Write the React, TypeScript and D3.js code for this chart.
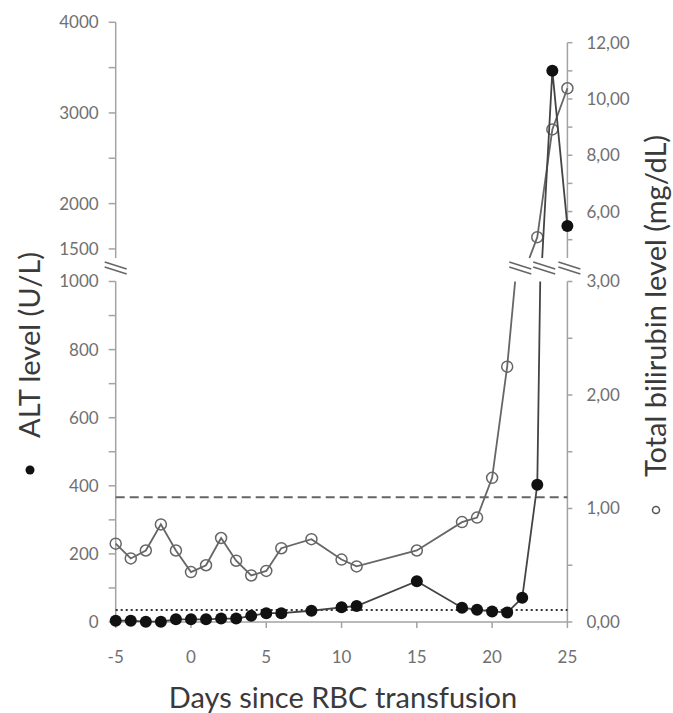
import React from 'react'
import * as d3 from 'd3'

const width = 673
const height = 713

// ALT (U/L), filled dots
const altDays = [-5, -4, -3, -2, -1, 0, 1, 2, 3, 4, 5, 6, 8, 10, 11, 15, 18, 19, 20, 21, 22, 23, 24, 25]
const altValues = [4, 4, 1, 1, 8, 8, 8, 10, 10, 18, 26, 26, 33, 43, 47, 120, 42, 36, 31, 28, 71, 403, 3466, 1752]

// total bilirubin (mg/dL), open circles
const biliDays = [-5, -4, -3, -2, -1, 0, 1, 2, 3, 4, 5, 6, 8, 10, 11, 15, 18, 19, 20, 21, 23, 24, 25]
const biliValues = [0.69, 0.56, 0.63, 0.86, 0.63, 0.44, 0.5, 0.74, 0.54, 0.41, 0.45, 0.65, 0.73, 0.55, 0.49, 0.63, 0.88, 0.92, 1.27, 2.25, 5.09, 8.92, 10.38]

const xTicks = [-5, 0, 5, 10, 15, 20, 25]
const altTicksLow = [0, 200, 400, 600, 800, 1000]
const altMinorLow = [100, 300, 500, 700, 900]
const altTicksHigh = [1500, 2000, 3000, 4000]
const altMinorHigh = [2500, 3500]
const biliTicksLow = [0, 1, 2, 3]
const biliMinorLow = [0.5, 1.5, 2.5]
const biliTicksHigh = [6, 8, 10, 12]
const biliMinorHigh = [5, 7, 9, 11]

const altLimit = 35 // dotted
const biliLimit = 1.1 // dashed

// scale break: lower panel ends at these values, upper panel starts at these
const altBreak = [1000, 1400]
const biliBreak = [3, 4.35]

const x = d3.scaleLinear().domain([-5, 25]).range([115.7, 567.4])
const altLow = d3.scaleLinear().domain([0, 1000]).range([622, 281.5])
const altHigh = d3.scaleLinear().domain([1400, 4000]).range([258, 22.3])
const biliLow = d3.scaleLinear().domain([0, 3]).range([622, 281.5])
const biliHigh = d3.scaleLinear().domain([4.35, 12]).range([258, 42.7])

const fmtComma = (v: number) => d3.format('.2f')(v).replace('.', ',')

type Pt = [number, number]

// split a series into pieces where it jumps across the axis break
function splitSeries(days: number[], vals: number[], brk: number[], yLow: any, yHigh: any) {
    const [lowMax, highMin] = brk
    const pos = (d: number, v: number): Pt => [x(d), v <= lowMax ? yLow(v) : yHigh(v)]
    const parts: Pt[][] = []
    const crossings: number[] = []
    let cur: Pt[] = []
    days.forEach((d, i) => {
        const v = vals[i]
        if (i > 0) {
            const d0 = days[i - 1]
            const v0 = vals[i - 1]
            const lo0 = v0 <= lowMax
            const lo1 = v <= lowMax
            if (lo0 !== lo1) {
                const at = (t: number) => d0 + ((d - d0) * (t - v0)) / (v - v0)
                const dA = at(lo0 ? lowMax : highMin)
                const dB = at(lo0 ? highMin : lowMax)
                cur.push([x(dA), lo0 ? yLow(lowMax) : yHigh(highMin)])
                parts.push(cur)
                crossings.push((x(dA) + x(dB)) / 2)
                cur = [[x(dB), lo0 ? yHigh(highMin) : yLow(lowMax)]]
            }
        }
        cur.push(pos(d, v))
    })
    parts.push(cur)
    const points = days.map((d, i) => pos(d, vals[i]))
    return { parts, crossings, points }
}

const line = d3.line()

const axisColor = '#a3a3a3'
const labelColor = '#707070'
const tickFont = { fontFamily: 'Lato, sans-serif', fontSize: 17, fill: labelColor }
const titleFont = { fontFamily: 'Lato, sans-serif', fontSize: 29, fill: '#3a3a3a' }

const BreakMark = ({ cx, cy }: { cx: number; cy: number }) => (
    <g stroke="#666" strokeWidth={1.6}>
        <line x1={cx - 11} y1={cy - 6} x2={cx + 11} y2={cy + 1} />
        <line x1={cx - 11} y1={cy - 1} x2={cx + 11} y2={cy + 6} />
    </g>
)

export default function App() {
    const alt = splitSeries(altDays, altValues, altBreak, altLow, altHigh)
    const bili = splitSeries(biliDays, biliValues, biliBreak, biliLow, biliHigh)
    const x0 = x(-5)
    const x1 = x(25)
    const breakY = 268

    return (
        <svg width={width} height={height} style={{ position: 'absolute', left: 0, top: 0 }}>
            <rect width={width} height={height} fill="#fff" />

            {/* left axis, upper */}
            <g stroke={axisColor} strokeWidth={1.5}>
                <line x1={x0} x2={x0} y1={altHigh(4000)} y2={altHigh(1400)} />
                {altTicksHigh.concat(altMinorHigh).map((t) => (
                    <line key={t} x1={x0 - 7} x2={x0} y1={altHigh(t)} y2={altHigh(t)} />
                ))}
                <line x1={x0} x2={x0} y1={altLow(1000)} y2={altLow(0)} />
                {altTicksLow.concat(altMinorLow).map((t) => (
                    <line key={t} x1={x0 - 7} x2={x0} y1={altLow(t)} y2={altLow(t)} />
                ))}
            </g>
            {altTicksHigh.map((t) => (
                <text key={t} x={x0 - 17} y={altHigh(t)} dy="0.35em" textAnchor="end" style={tickFont}>
                    {t}
                </text>
            ))}
            {altTicksLow.map((t) => (
                <text key={t} x={x0 - 17} y={altLow(t)} dy="0.35em" textAnchor="end" style={tickFont}>
                    {t}
                </text>
            ))}

            {/* right axis */}
            <g stroke={axisColor} strokeWidth={1.5}>
                <line x1={x1} x2={x1} y1={biliHigh(12)} y2={biliHigh(4.35)} />
                {biliTicksHigh.concat(biliMinorHigh).map((t) => (
                    <line key={t} x1={x1} x2={x1 + 5} y1={biliHigh(t)} y2={biliHigh(t)} />
                ))}
                <line x1={x1} x2={x1} y1={biliLow(3)} y2={biliLow(0)} />
                {biliTicksLow.concat(biliMinorLow).map((t) => (
                    <line key={t} x1={x1} x2={x1 + 5} y1={biliLow(t)} y2={biliLow(t)} />
                ))}
            </g>
            {biliTicksHigh.map((t) => (
                <text key={t} x={x1 + 19} y={biliHigh(t)} dy="0.35em" style={tickFont}>
                    {fmtComma(t)}
                </text>
            ))}
            {biliTicksLow.map((t) => (
                <text key={t} x={x1 + 19} y={biliLow(t)} dy="0.35em" style={tickFont}>
                    {fmtComma(t)}
                </text>
            ))}

            {/* x axis */}
            <g stroke={axisColor} strokeWidth={1.5}>
                <line x1={x0} x2={x1} y1={altLow(0)} y2={altLow(0)} />
                {xTicks.map((t) => (
                    <line key={t} x1={x(t)} x2={x(t)} y1={altLow(0)} y2={altLow(0) + 6} />
                ))}
            </g>
            {xTicks.map((t) => (
                <text key={t} x={x(t)} y={663} textAnchor="middle" style={tickFont}>
                    {t}
                </text>
            ))}

            {/* reference limits */}
            <line x1={x0} x2={x1} y1={biliLow(biliLimit)} y2={biliLow(biliLimit)} stroke="#666" strokeWidth={2} strokeDasharray="9,5" />
            <line x1={x0} x2={x1} y1={altLow(altLimit)} y2={altLow(altLimit)} stroke="#333" strokeWidth={2} strokeDasharray="2,3" />

            {/* bilirubin */}
            {bili.parts.map((p, i) => (
                <path key={i} d={line(p) || ''} fill="none" stroke="#666" strokeWidth={1.8} />
            ))}
            {bili.points.map((p, i) => (
                <circle key={i} cx={p[0]} cy={p[1]} r={5.5} fill="none" stroke="#666" strokeWidth={1.5} />
            ))}

            {/* ALT */}
            {alt.parts.map((p, i) => (
                <path key={i} d={line(p) || ''} fill="none" stroke="#444" strokeWidth={1.8} />
            ))}
            {alt.points.map((p, i) => (
                <circle key={i} cx={p[0]} cy={p[1]} r={6} fill="#111" />
            ))}

            {/* break marks */}
            <BreakMark cx={x0} cy={breakY} />
            {bili.crossings.map((c, i) => (
                <BreakMark key={'b' + i} cx={c - 2} cy={breakY} />
            ))}
            {alt.crossings.map((c, i) => (
                <BreakMark key={'a' + i} cx={c + 3} cy={breakY} />
            ))}
            <BreakMark cx={x1 + 2} cy={breakY} />

            {/* titles */}
            <text x={343} y={708} textAnchor="middle" style={titleFont}>
                Days since RBC transfusion
            </text>
            <text transform="translate(40,345) rotate(-90)" textAnchor="middle" style={titleFont}>
                ALT level (U/L)
            </text>
            <circle cx={30} cy={470} r={4.5} fill="#111" />
            <text transform="translate(666,306) rotate(-90)" textAnchor="middle" style={titleFont}>
                Total bilirubin level (mg/dL)
            </text>
            <circle cx={656} cy={510} r={3.5} fill="none" stroke="#555" strokeWidth={1.5} />
        </svg>
    )
}
